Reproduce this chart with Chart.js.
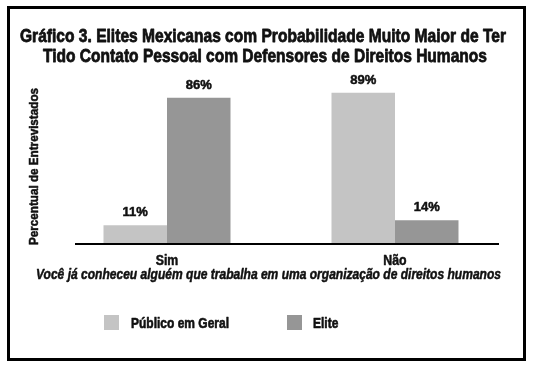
<!DOCTYPE html>
<html>
<head>
<meta charset="utf-8">
<script src="https://cdn.jsdelivr.net/npm/chart.js@4/dist/chart.umd.min.js"></script>
<style>
  html, body { margin: 0; padding: 0; background: #fff; }
  body { width: 533px; height: 370px; position: relative; overflow: hidden; }
  #frame { position: absolute; left: 7px; top: 6px; width: 519px; height: 355px; box-sizing: border-box; border: 3px solid #000; }
  #wrap { position: absolute; left: 0; top: 0; width: 533px; height: 370px; }
</style>
</head>
<body>
<div id="frame"></div>
<div id="wrap"><canvas id="c" width="533" height="370"></canvas></div>
<script>
const titleLines = ['Gráfico 3. Elites Mexicanas com Probabilidade Muito Maior de Ter', 'Tido Contato Pessoal com Defensores de Direitos Humanos'];
const categories = ['Sim', 'Não'];
const seriesNames = ['Público em Geral', 'Elite'];
const publicoValues = [11, 89];
const eliteValues = [86, 14];
const seriesColors = ['#c4c4c4', '#969696'];
const yAxisTitle = 'Percentual de Entrevistados';
const xAxisTitle = 'Você já conheceu alguém que trabalha em uma organização de direitos humanos';

const FONT = "'Liberation Sans', Arial, sans-serif";
const INK = '#111';

// draw text horizontally squeezed (condensed look) to a target width or by a factor
function condensed(ctx, s, x, y, font, opts) {
  ctx.save();
  ctx.font = font;
  ctx.fillStyle = INK;
  ctx.strokeStyle = INK;
  ctx.textBaseline = 'alphabetic';
  ctx.textAlign = opts.align || 'center';
  const w = ctx.measureText(s).width;
  const k = opts.width ? opts.width / w : (opts.factor || 1);
  ctx.translate(x, y);
  if (opts.rotate) ctx.rotate(opts.rotate);
  ctx.scale(k, 1);
  ctx.fillText(s, 0, 0);
  ctx.lineWidth = opts.stroke === undefined ? 0.6 : opts.stroke;
  ctx.lineJoin = 'round';
  if (ctx.lineWidth > 0) ctx.strokeText(s, 0, 0);
  ctx.restore();
}

const textPlugin = {
  id: 'texts',
  afterDatasetsDraw(chart) {
    const ctx = chart.ctx;
    chart.data.datasets.forEach((ds, i) => {
      chart.getDatasetMeta(i).data.forEach((bar, j) => {
        condensed(ctx, ds.data[j] + '%', bar.x, bar.y - 9, 'bold 13px ' + FONT, { factor: 1.0, stroke: 0.5 });
      });
    });
  },
  afterDraw(chart) {
    const ctx = chart.ctx, a = chart.chartArea;
    // axis baseline
    ctx.save();
    ctx.strokeStyle = '#000';
    ctx.lineWidth = 2;
    ctx.beginPath();
    ctx.moveTo(a.left + 22, a.bottom);
    ctx.lineTo(a.right - 10, a.bottom);
    ctx.stroke();
    ctx.restore();
    // title
    condensed(ctx, titleLines[0], 263, 41.5, 'bold 19px ' + FONT, { width: 486, stroke: 0.8 });
    condensed(ctx, titleLines[1], 265, 62, 'bold 19px ' + FONT, { width: 444, stroke: 0.8 });
    // axis titles
    condensed(ctx, yAxisTitle, 38, 166.5, 'bold 13px ' + FONT, { width: 157, rotate: -Math.PI / 2, stroke: 0.5 });
    condensed(ctx, xAxisTitle, 268.5, 278.5, 'italic bold 14px ' + FONT, { width: 465, stroke: 0.5 });
    // category labels
    const xs = chart.scales.x;
    chart.data.labels.forEach((lab, i) => {
      condensed(ctx, lab, xs.getPixelForTick(i), 265, 'bold 14px ' + FONT, { factor: 0.88, stroke: 0.5 });
    });
    // legend
    const items = [{ box: 104, text: 131 }, { box: 287, text: 313 }];
    chart.data.datasets.forEach((ds, i) => {
      ctx.save();
      ctx.fillStyle = ds.backgroundColor;
      ctx.fillRect(items[i].box, 315, 15, 15);
      ctx.restore();
      condensed(ctx, ds.label, items[i].text, 327.5, 'bold 15px ' + FONT, { factor: 0.8, align: 'left', stroke: 0.6 });
    });
  }
};

const chart = new Chart(document.getElementById('c'), {
  type: 'bar',
  data: {
    labels: categories,
    datasets: [
      { label: seriesNames[0], data: publicoValues, backgroundColor: seriesColors[0] },
      { label: seriesNames[1], data: eliteValues, backgroundColor: seriesColors[1] }
    ]
  },
  options: {
    responsive: false,
    animation: false,
    devicePixelRatio: 1,
    layout: { padding: { top: 74, bottom: 82, left: 28, right: 24 } },
    datasets: { bar: { barPercentage: 1, categoryPercentage: 0.557 } },
    plugins: {
      legend: { display: false },
      tooltip: { enabled: false },
      title: { display: false }
    },
    scales: {
      x: {
        grid: { display: false, drawTicks: false },
        border: { display: false },
        ticks: { display: false },
        afterFit(s) { s.height = 44; }
      },
      y: {
        min: 0, max: 100,
        grid: { display: false, drawTicks: false },
        border: { display: false },
        ticks: { display: false },
        afterFit(s) { s.width = 25; }
      }
    }
  },
  plugins: [textPlugin]
});
</script>
</body>
</html>
